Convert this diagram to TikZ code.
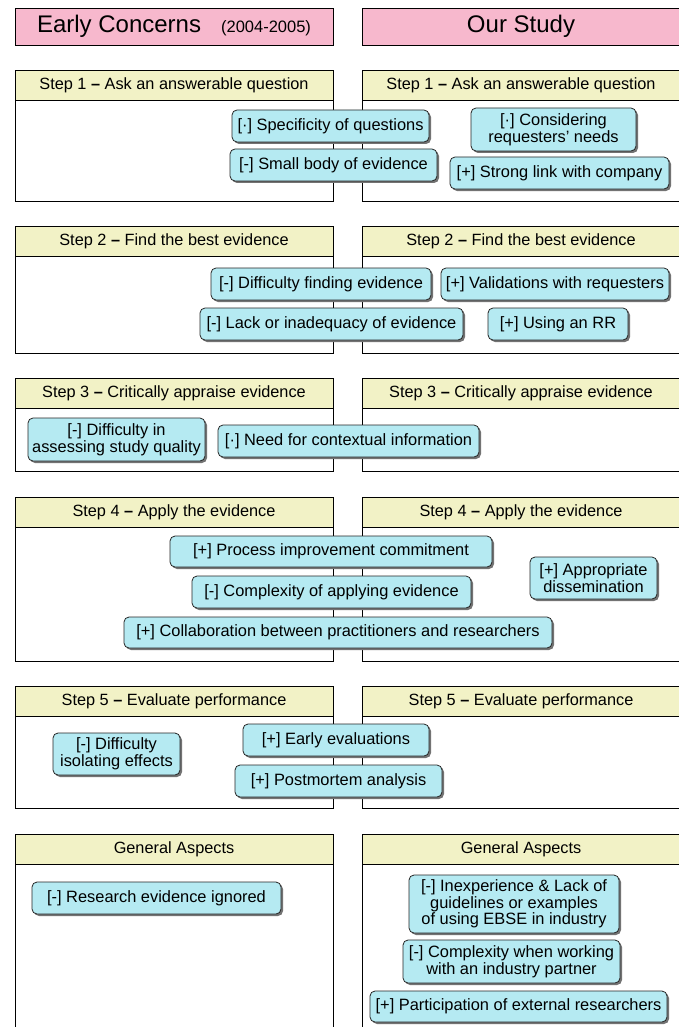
\documentclass[tikz,border=0pt]{standalone}
\usepackage{fontspec}
\setmainfont{Liberation Sans}
\usetikzlibrary{shadows}
\definecolor{pinkT}{HTML}{F7B8CD}
\definecolor{hdr}{HTML}{F2F2C6}
\definecolor{itemc}{HTML}{B5EAF2}
\tikzset{
 panel/.style={draw=black, line width=0.9pt},
 titlebox/.style={draw=black, fill=pinkT, line width=0.9pt, minimum width=318pt, minimum height=37pt, inner sep=0pt, font=\fontsize{24}{26}\selectfont},
 hdrbox/.style={draw=black, fill=hdr, line width=0.9pt, minimum width=318pt, minimum height=30pt, inner sep=0pt, font=\fontsize{16.3}{17}\selectfont},
 itembox/.style={draw=black!85, fill=itemc, rounded corners=5pt, line width=0.8pt, align=center, inner sep=0pt,
   font=\fontsize{16.4}{16.6}\selectfont,
   drop shadow={shadow xshift=2pt, shadow yshift=-2pt, fill=black!55, opacity=1}},
}
\newcommand\dsh{\textbf{–}}
\begin{document}
\begin{tikzpicture}[x=1pt,y=-1pt]
\clip (0,0) rectangle (679,1027);
\useasboundingbox (0,0) rectangle (679,1027);
% titles
\node[titlebox] (tl) at (174,26.5) {Early Concerns\hspace{20pt}{\fontsize{16.5}{18}\selectfont(2004-2005)}};
\node[titlebox] (tr) at (521,26.5) {Our Study};
% panels
\foreach \ht/\hb/\bb in {70/100/201, 227/256/353, 378/408/471, 497/527/661, 687/716/808, 834/864/1045}{
  \draw[panel] (15,\hb) rectangle (333,\bb);
  \draw[panel] (362,\hb) rectangle (680,\bb);
}
\node[hdrbox] (h1l) at (174,85) {Step 1 \dsh{} Ask an answerable question};
\node[hdrbox] (h1r) at (521,85) {Step 1 \dsh{} Ask an answerable question};
\node[hdrbox] (h2l) at (174,241.5) {Step 2 \dsh{} Find the best evidence};
\node[hdrbox] (h2r) at (521,241.5) {Step 2 \dsh{} Find the best evidence};
\node[hdrbox] (h3l) at (174,393) {Step 3 \dsh{} Critically appraise evidence};
\node[hdrbox] (h3r) at (521,393) {Step 3 \dsh{} Critically appraise evidence};
\node[hdrbox] (h4l) at (174,512) {Step 4 \dsh{} Apply the evidence};
\node[hdrbox] (h4r) at (521,512) {Step 4 \dsh{} Apply the evidence};
\node[hdrbox] (h5l) at (174,701.5) {Step 5 \dsh{} Evaluate performance};
\node[hdrbox] (h5r) at (521,701.5) {Step 5 \dsh{} Evaluate performance};
\node[hdrbox] (hgl) at (174,849) {General Aspects};
\node[hdrbox] (hgr) at (521,849) {General Aspects};
% step 1
\node[itembox, minimum width=197pt, minimum height=32pt] (a1) at (330.5,126) {[·] Specificity of questions};
\node[itembox, minimum width=207pt, minimum height=32pt] (a2) at (333.5,165) {[-] Small body of evidence};
\node[itembox, minimum width=165pt, minimum height=43pt] (a3) at (553.5,129.5) {[·] Considering\\requesters’ needs};
\node[itembox, minimum width=219pt, minimum height=32pt] (a4) at (559.5,173) {[+] Strong link with company};
% step 2
\node[itembox, minimum width=220pt, minimum height=32pt] (b1) at (321,284) {[-] Difficulty finding evidence};
\node[itembox, minimum width=228pt, minimum height=32pt] (b2) at (555,284) {[+] Validations with requesters};
\node[itembox, minimum width=263pt, minimum height=32pt] (b3) at (331.5,324) {[-] Lack or inadequacy of evidence};
\node[itembox, minimum width=140pt, minimum height=32pt] (b4) at (558,324) {[+] Using an RR};
% step 3
\node[itembox, minimum width=177pt, minimum height=43pt] (c1) at (116.5,439.5) {[-] Difficulty in\\assessing study quality};
\node[itembox, minimum width=261pt, minimum height=32pt] (c2) at (348.5,441) {[·] Need for contextual information};
% step 4
\node[itembox, minimum width=322pt, minimum height=31pt] (d1) at (331,551.5) {[+] Process improvement commitment};
\node[itembox, minimum width=279pt, minimum height=32pt] (d2) at (331.5,592) {[-] Complexity of applying evidence};
\node[itembox, minimum width=428pt, minimum height=31pt] (d3) at (338,632.5) {[+] Collaboration between practitioners and researchers};
\node[itembox, minimum width=127pt, minimum height=42pt] (d4) at (593.5,578) {[+] Appropriate\\dissemination};
% step 5
\node[itembox, minimum width=127pt, minimum height=42pt] (e1) at (116.5,754) {[-] Difficulty\\isolating effects};
\node[itembox, minimum width=186pt, minimum height=32pt] (e2) at (336,740) {[+] Early evaluations};
\node[itembox, minimum width=207pt, minimum height=32pt] (e3) at (338.5,781) {[+] Postmortem analysis};
% general
\node[itembox, minimum width=249pt, minimum height=32pt] (g1) at (156.5,898) {[-] Research evidence ignored};
\node[itembox, minimum width=210pt, minimum height=58pt] (g2) at (514,904) {[-] Inexperience \& Lack of\\guidelines or examples\\of using EBSE in industry};
\node[itembox, minimum width=217pt, minimum height=43pt] (g3) at (511.5,961.5) {[-] Complexity when working\\with an industry partner};
\node[itembox, minimum width=297pt, minimum height=31pt] (g4) at (518.5,1006.5) {[+] Participation of external researchers};
\end{tikzpicture}
\end{document}
